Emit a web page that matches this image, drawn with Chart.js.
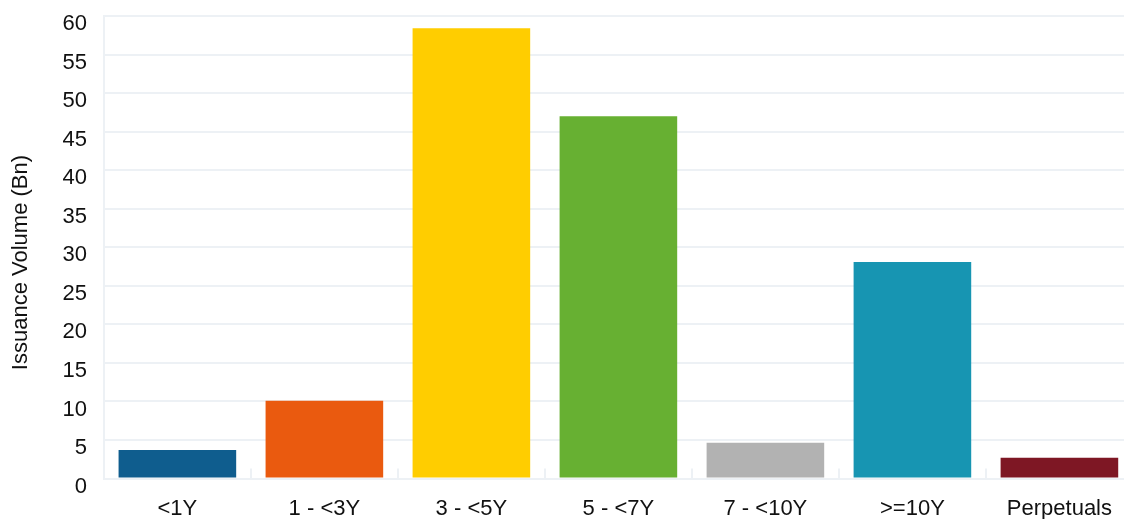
<!DOCTYPE html>
<html>
<head>
<meta charset="utf-8">
<script src="https://cdn.jsdelivr.net/npm/chart.js@4"></script>
<style>
  html, body { margin: 0; padding: 0; background: #fff; overflow: hidden; }
  canvas { display: block; }
</style>
</head>
<body>
<canvas id="grafico" width="1139" height="549"></canvas>
<script>
  // Emissões por prazo (Bn)
  const PRAZOS = ['<1Y', '1 - <3Y', '3 - <5Y', '5 - <7Y', '7 - <10Y', '>=10Y', 'Perpetuals'];
  const VOLUMES = [3.7, 10.1, 58.4, 47.0, 4.65, 28.1, 2.7];
  const CORES = ['#0f5d8e', '#ea5a0f', '#ffcd00', '#67b032', '#b2b2b2', '#1795b2', '#7e1724'];
  const Y_MAX = 60;
  const Y_PASSO = 5;

  const GRADE = '#edf1f5';
  const familia = 'Liberation Sans, Arial, Helvetica, sans-serif';
  const fonteTicks = { family: familia, size: 22 };
  const fonteTicksY = { family: familia, size: 22, lineHeight: 1.36 }; // altura controla o respiro no topo
  const fonteTitulo = { family: familia, size: 22 };

  new Chart(document.getElementById('grafico'), {
    type: 'bar',
    data: {
      labels: PRAZOS,
      datasets: [{
        data: VOLUMES,
        backgroundColor: CORES,
        categoryPercentage: 0.8,
        barPercentage: 1,
      }],
    },
    options: {
      responsive: false,
      animation: false,
      layout: { padding: { left: 4, top: 0, right: 0, bottom: 0 } },
      plugins: { legend: { display: false }, tooltip: { enabled: false } },
      scales: {
        x: {
          grid: { offset: true, drawOnChartArea: false, drawTicks: true, tickLength: -10, color: GRADE, lineWidth: 2 },
          border: { color: GRADE, width: 2 },
          ticks: { color: '#111', font: fonteTicks, padding: 27, maxRotation: 0 },
        },
        y: {
          min: 0,
          max: Y_MAX,
          // marca do tick invisível só para abrir o espaço entre rótulo e eixo
          grid: { color: GRADE, lineWidth: 2, drawTicks: true, tickLength: 16, tickColor: 'rgba(0,0,0,0)' },
          border: { color: GRADE, width: 2 },
          ticks: { stepSize: Y_PASSO, color: '#111', font: fonteTicksY, padding: 1, labelOffset: 8 },
          title: { display: true, text: 'Issuance Volume (Bn)     ', color: '#111', font: fonteTitulo, padding: { top: 4, bottom: 27 } },
        },
      },
    },
  });
</script>
</body>
</html>
